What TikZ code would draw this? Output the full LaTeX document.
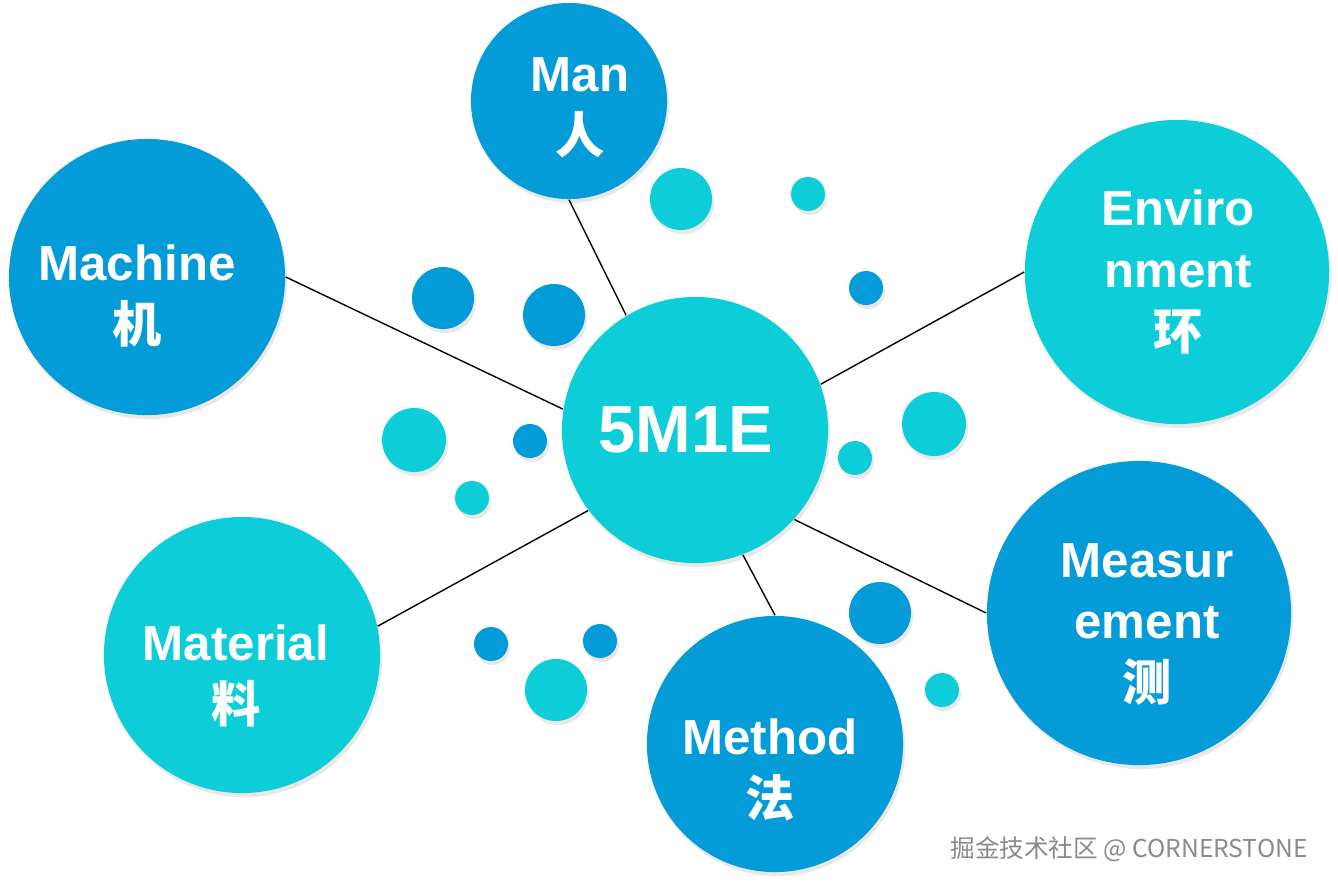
\documentclass[tikz,border=0pt]{standalone}
\usepackage{fontspec}
\setmainfont{Liberation Sans}
\newfontfamily\cjk{Noto Sans CJK SC}
\usepackage{tikz}
\usetikzlibrary{shadows}
\definecolor{dkblue}{HTML}{039BD8}
\definecolor{ltcyan}{HTML}{0DCED8}
\definecolor{markgray}{HTML}{8A8A8A}
\tikzset{
    ball/.style={circle, inner sep=0pt, draw=none, minimum size=#1, drop shadow={opacity=0.18, shadow xshift=0.02cm, shadow yshift=-0.04cm}},
    blueball/.style={ball=#1, fill=dkblue},
    cyanball/.style={ball=#1, fill=ltcyan},
    caption/.style={text=white, font=\fontsize{14}{17.5}\selectfont\bfseries, align=center, inner sep=0pt},
    link/.style={black, line width=0.4pt}
}

\begin{document}
\begin{tikzpicture}[x=0.01cm, y=-0.01cm]
    \useasboundingbox (0,0) rectangle (1338,887);

    % small dots
    \node (d1) [cyanball=0.62cm] at (681,199) {};
    \node (d2) [cyanball=0.34cm] at (808,194) {};
    \node (d3) [blueball=0.34cm] at (866,288) {};
    \node (d4) [blueball=0.62cm] at (443,298) {};
    \node (d5) [blueball=0.62cm] at (554,315) {};
    \node (d6) [cyanball=0.64cm] at (414,440) {};
    \node (d7) [blueball=0.34cm] at (530,441) {};
    \node (d8) [cyanball=0.34cm] at (472,498) {};
    \node (d9) [cyanball=0.64cm] at (934,424) {};
    \node (d10) [cyanball=0.34cm] at (855,458) {};
    \node (d11) [blueball=0.34cm] at (491,644) {};
    \node (d12) [blueball=0.34cm] at (600,641) {};
    \node (d13) [cyanball=0.62cm] at (556,690) {};
    \node (d14) [blueball=0.62cm] at (880,613) {};
    \node (d15) [cyanball=0.34cm] at (942,690) {};

    % the six factors
    \node (core) [cyanball=2.66cm] at (695,430) {};
    \node (man) [blueball=1.96cm] at (569,101) {};
    \node (machine) [blueball=2.76cm] at (147,277) {};
    \node (env) [cyanball=3.04cm] at (1177,272) {};
    \node (material) [cyanball=2.76cm] at (242,655) {};
    \node (method) [blueball=2.56cm] at (775,744) {};
    \node (measure) [blueball=3.04cm] at (1139,613) {};

    \node (coretxt) [caption, font=\fontsize{19}{22}\selectfont\bfseries] at (686,430) {5M1E};
    \node (mantxt) [caption] at (580,108) {Man\\{\cjk 人}};
    \node (machinetxt) [caption] at (137,296) {Machine\\{\cjk 机}};
    \node (envtxt) [caption] at (1178,272) {Enviro\\nment\\{\cjk 环}};
    \node (materialtxt) [caption] at (236,676) {Material\\{\cjk 料}};
    \node (methodtxt) [caption] at (770,770) {Method\\{\cjk 法}};
    \node (measuretxt) [caption] at (1147,624) {Measur\\ement\\{\cjk 测}};

    \draw [link] (man.270) -- (core.121.6);
    \draw [link] (machine.0) -- (core.171);
    \draw [link] (env.180) -- (core.20.2);
    \draw [link] (material.12.2) -- (core.217.4);
    \draw [link] (method.90.9) -- (core.291.8);
    \draw [link] (measure.180) -- (core.318);

    \node (mark) [text=markgray, font=\cjk\fontsize{7}{8}\selectfont] at (1129,849) {掘金技术社区 @ CORNERSTONE};
\end{tikzpicture}
\end{document}
